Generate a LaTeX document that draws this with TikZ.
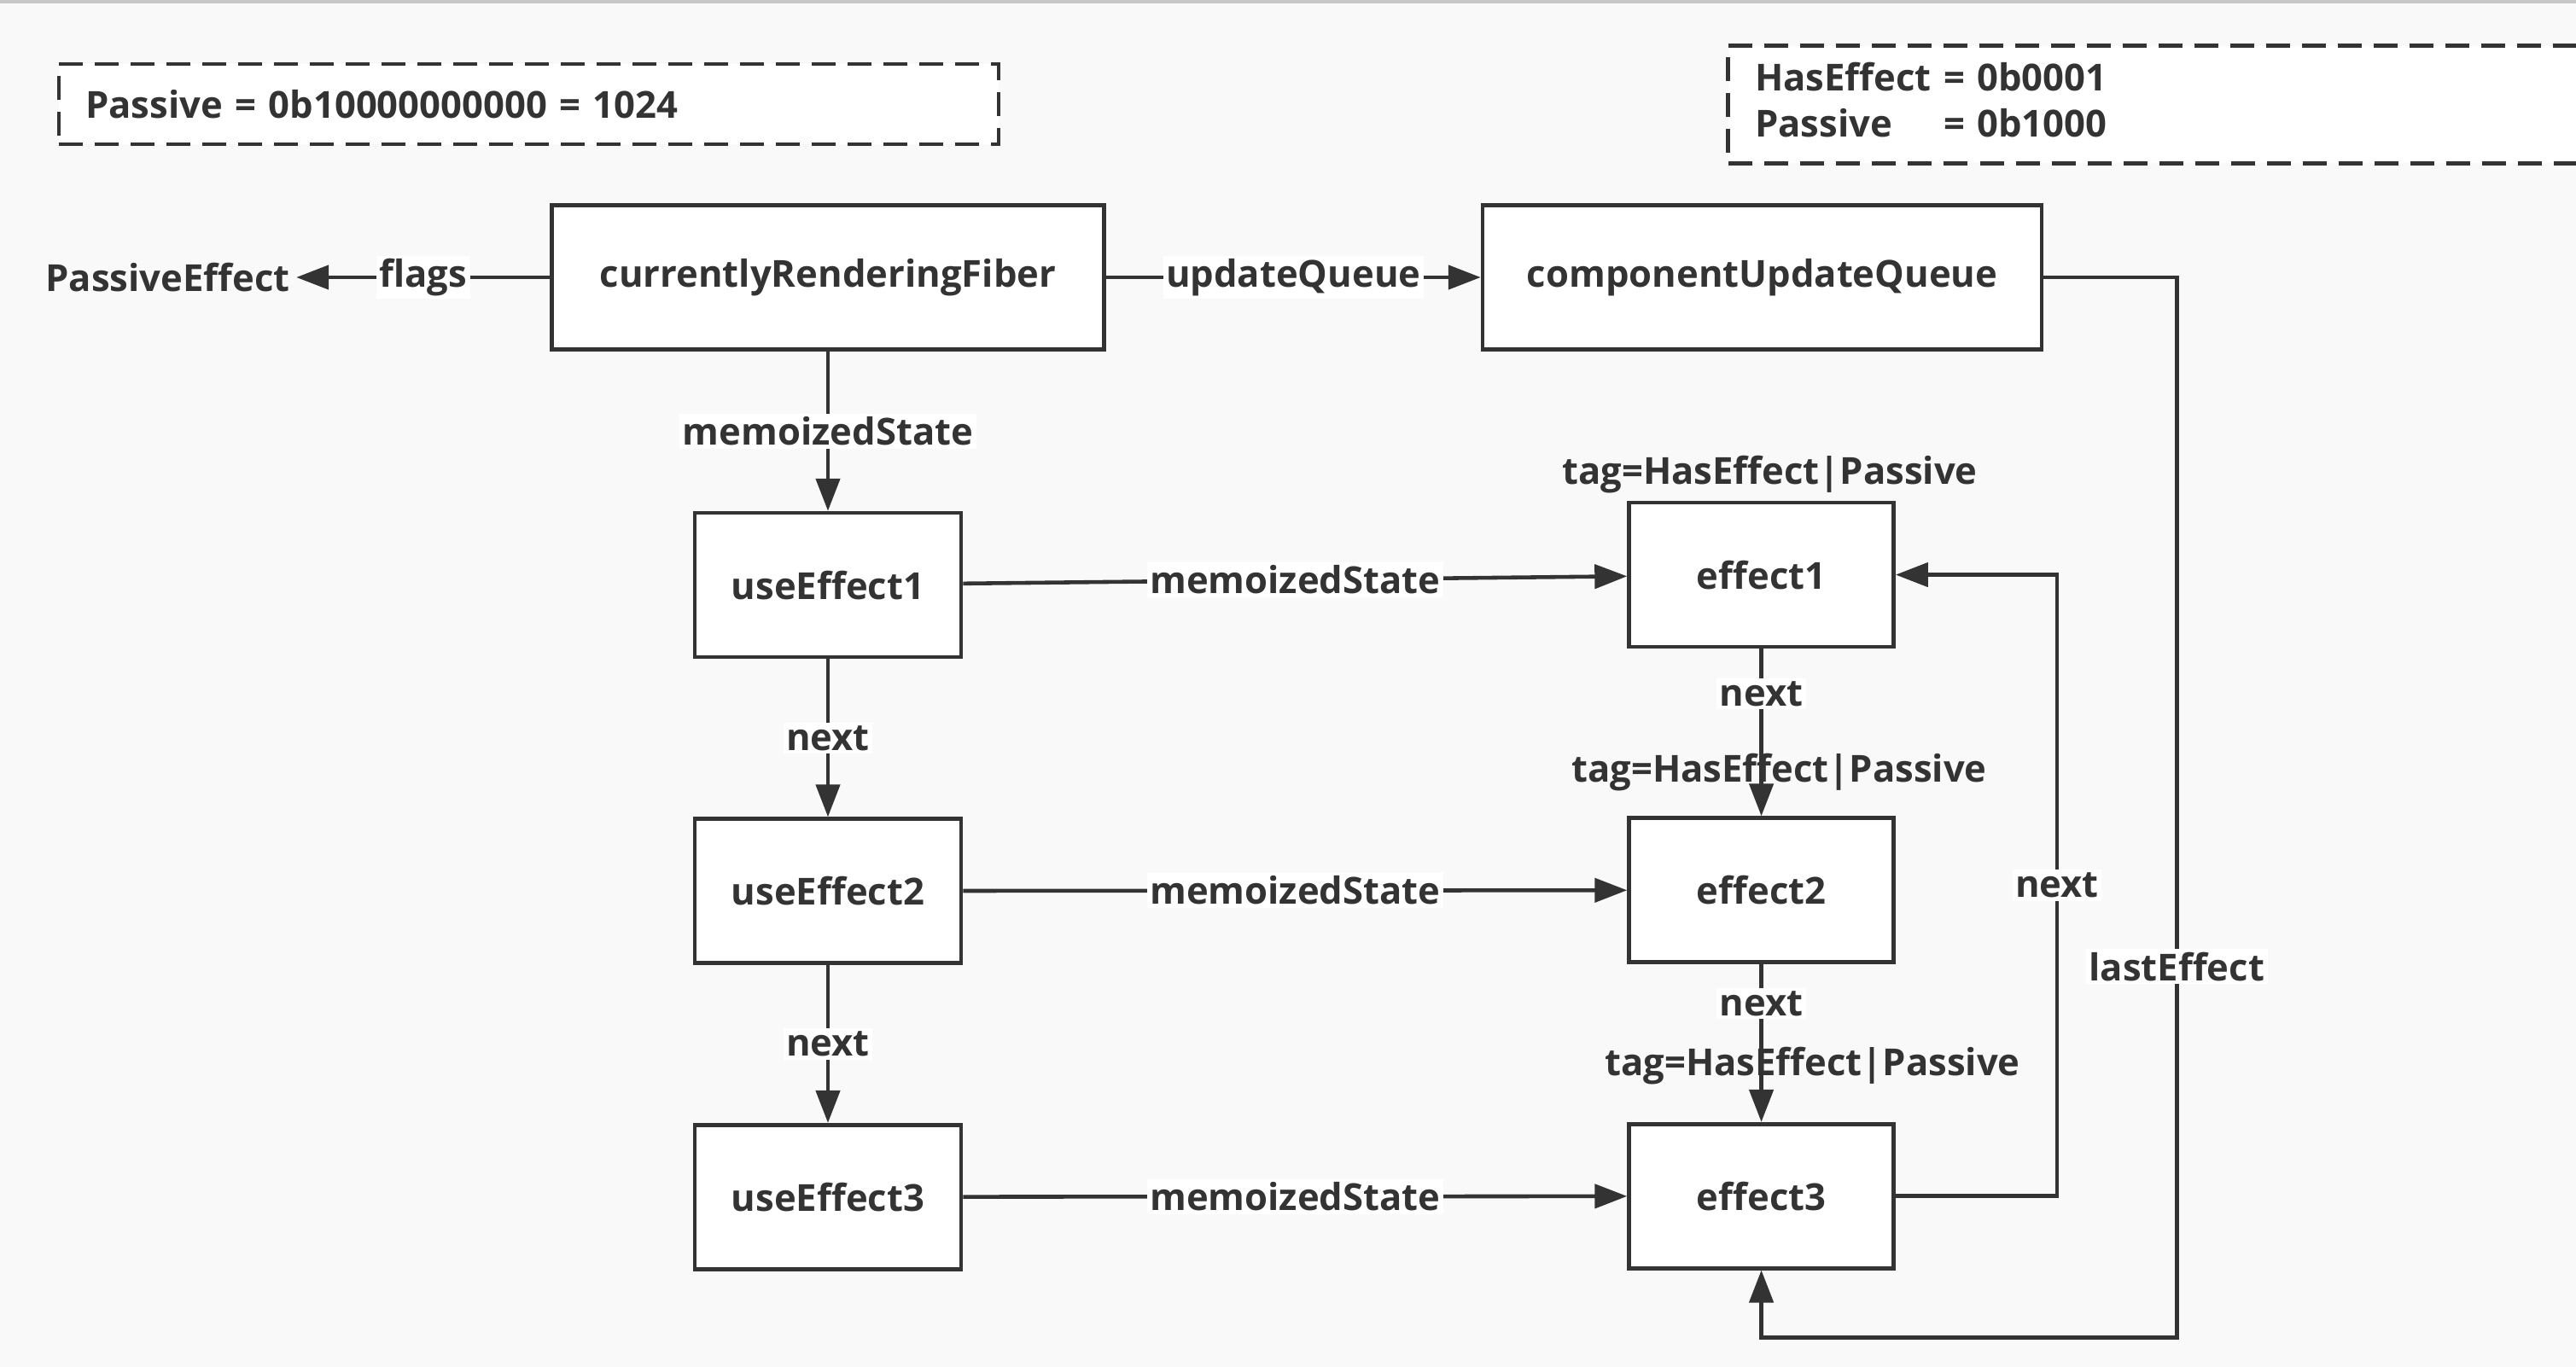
\documentclass[tikz,border=0pt]{standalone}
\usepackage{fontspec}
\setmainfont{Open Sans}
\usepackage{xcolor}
\usepackage{tikz}
\usetikzlibrary{arrows.meta,positioning,calc}
\definecolor{ink}{HTML}{333333}
\definecolor{paper}{HTML}{F9F9F9}
\newcommand{\hkfont}{\fontsize{12.4}{15.3}\selectfont\bfseries}
\tikzset{
  hbox/.style={rectangle,draw=ink,fill=white,line width=1.3pt,minimum height=16.9mm,text=ink,font=\hkfont},
  fiberbox/.style={hbox,minimum width=64.7mm},
  hookbox/.style={hbox,minimum width=31.2mm},
  harrow/.style={-{Triangle[length=3.8mm,width=2.8mm]},draw=ink,line width=1.3pt},
  elabel/.style={fill=white,inner sep=1pt,text=ink,font=\hkfont},
  taglabel/.style={text=ink,font=\hkfont,anchor=base,inner sep=0pt},
  notebox/.style={draw=ink,line width=1.3pt,dash pattern=on 2.8mm off 1.4mm}
}

\begin{document}
\begin{tikzpicture}
  \fill[paper] (0,0) rectangle (30.18,-16.02);
  \fill[black!22] (0,0) rectangle (30.18,-0.04);
  \useasboundingbox (0,0) rectangle (30.18,-16.02);
  % flag notes
  \node[notebox,fill=white,minimum height=9.4mm,inner xsep=3.1mm,text width=103.9mm,align=left,text=ink,font=\hkfont] (note1) at (6.195,-1.22) {Passive = 0b10000000000 = 1024};
  \node[fill=white,minimum height=13.7mm,inner xsep=3.1mm,text width=93.1mm,align=left,text=ink,font=\hkfont] (note2) at (25.215,-1.225)
    {\begin{tabular}{@{}l@{ }l@{}}HasEffect & = 0b0001\\Passive & = 0b1000\end{tabular}};
  \draw[notebox] (note2.north east) -- (note2.north west) -- (note2.south west) -- (note2.south east);
  % fiber and hooks
  \node[fiberbox] (fiber) at (9.70,-3.25) {currentlyRenderingFiber};
  \node[fiberbox,minimum width=65.5mm,right=4.39cm of fiber] (queue) {componentUpdateQueue};
  \node[text=ink,font=\hkfont,inner sep=2pt,left=2.97cm of fiber] (peff) {PassiveEffect};
  \node[hookbox,below=1.87cm of fiber] (u1) {useEffect1};
  \node[hookbox,below=1.85cm of u1] (u2) {useEffect2};
  \node[hookbox,below=1.85cm of u2] (u3) {useEffect3};
  \node[hookbox,minimum width=31mm,right=7.78cm of u1,yshift=1.2mm] (e1) {effect1};
  \node[hookbox,minimum width=31mm,below=1.96cm of e1] (e2) {effect2};
  \node[hookbox,minimum width=31mm,below=1.85cm of e2] (e3) {effect3};
  \node[taglabel] (tag1) at ([xshift=1mm,yshift=1.9mm]e1.north) {tag=HasEffect|Passive};
  \node[taglabel] (tag2) at ([xshift=2.1mm,yshift=4mm]e2.north) {tag=HasEffect|Passive};
  \node[taglabel] (tag3) at ([xshift=6mm,yshift=5.4mm]e3.north) {tag=HasEffect|Passive};
  \coordinate[right=1.89cm of e3.east] (nturn);
  \coordinate[right=1.56cm of queue.east] (lturn);
  \coordinate[below=0.79cm of e3.south] (lbot);
  % links
  \draw[harrow] (fiber) -- node[elabel]{flags} (peff);
  \draw[harrow] (fiber) -- node[elabel]{updateQueue} (queue);
  \draw[harrow] (fiber) -- node[elabel]{memoizedState} (u1);
  \draw[harrow] (u1) -- node[elabel]{next} (u2);
  \draw[harrow] (u2) -- node[elabel]{next} (u3);
  \draw[harrow] (u1) -- node[elabel]{memoizedState} (e1);
  \draw[harrow] (u2) -- node[elabel]{memoizedState} (e2);
  \draw[harrow] (u3) -- node[elabel]{memoizedState} (e3);
  \draw[harrow] (e1) -- node[elabel,pos=.27]{next} (e2);
  \draw[harrow] (e2) -- node[elabel,pos=.25]{next} (e3);
  \draw[harrow] (e3) -- (nturn) |- node[elabel,pos=.25]{next} (e1);
  \draw[harrow] (queue) -- (lturn) |- node[elabel,pos=.325]{lastEffect} (lbot) -- (e3);
\end{tikzpicture}
\end{document}
